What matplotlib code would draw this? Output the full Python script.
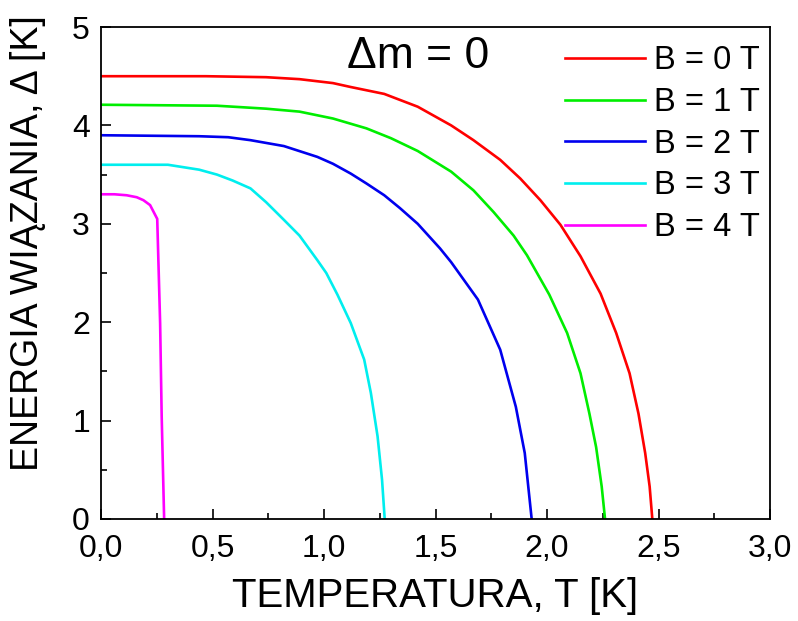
import matplotlib
matplotlib.use("Agg")
import matplotlib.pyplot as plt
from matplotlib.ticker import MultipleLocator

plt.rcParams["font.family"] = ["Liberation Sans", "DejaVu Sans"]

# values
t_b0 = [0, 0.47, 0.74, 0.89, 1.04, 1.12, 1.27, 1.42, 1.57, 1.67, 1.79, 1.88, 1.97,
        2.06, 2.15, 2.24, 2.31, 2.37, 2.41, 2.44, 2.46, 2.472]
d_b0 = [4.5, 4.5, 4.49, 4.47, 4.43, 4.39, 4.32, 4.19, 4.00, 3.85, 3.65, 3.46, 3.24,
        2.99, 2.67, 2.29, 1.89, 1.48, 1.07, 0.67, 0.33, 0.0]

t_b1 = [0, 0.52, 0.74, 0.89, 1.04, 1.19, 1.30, 1.42, 1.57, 1.67, 1.76, 1.85, 1.91,
        2.01, 2.09, 2.15, 2.19, 2.22, 2.245, 2.26]
d_b1 = [4.21, 4.2, 4.17, 4.14, 4.07, 3.97, 3.87, 3.74, 3.53, 3.34, 3.12, 2.88, 2.68,
        2.28, 1.89, 1.48, 1.07, 0.73, 0.33, 0.0]

t_b2 = [0, 0.44, 0.57, 0.67, 0.82, 0.97, 1.04, 1.12, 1.19, 1.27, 1.34, 1.42, 1.52,
        1.57, 1.69, 1.79, 1.86, 1.90, 1.931]
d_b2 = [3.9, 3.89, 3.88, 3.85, 3.79, 3.68, 3.61, 3.51, 3.41, 3.29, 3.16, 3.00, 2.75,
        2.61, 2.23, 1.72, 1.14, 0.67, 0.0]

t_b3 = [0, 0.30, 0.44, 0.52, 0.59, 0.67, 0.74, 0.82, 0.89, 0.97, 1.01, 1.06, 1.12,
        1.18, 1.21, 1.24, 1.26, 1.272]
d_b3 = [3.6, 3.6, 3.55, 3.50, 3.44, 3.36, 3.22, 3.04, 2.88, 2.63, 2.50, 2.28, 1.99,
        1.62, 1.28, 0.84, 0.40, 0.0]

t_b4 = [0, 0.06, 0.115, 0.16, 0.19, 0.22, 0.252, 0.265, 0.272, 0.283]
d_b4 = [3.3, 3.3, 3.29, 3.27, 3.24, 3.19, 3.05, 1.99, 1.04, 0.0]

labels = ["B = 0 T", "B = 1 T", "B = 2 T", "B = 3 T", "B = 4 T"]
colors = ["#ff0000", "#00ee00", "#0000ee", "#00eeee", "#ff00ff"]

x_ticks = [0.0, 0.5, 1.0, 1.5, 2.0, 2.5, 3.0]
y_ticks = [0, 1, 2, 3, 4, 5]

series = [(t_b0, d_b0), (t_b1, d_b1), (t_b2, d_b2), (t_b3, d_b3), (t_b4, d_b4)]

fig = plt.figure(figsize=(7.98, 6.21), dpi=100)
ax = fig.add_axes([0.1266, 0.1643, 0.8384, 0.7922])

for (t, d), lab, c in zip(series, labels, colors):
    ax.plot(t, d, color=c, linewidth=1.9, label=lab)

ax.set_xlim(0, 3)
ax.set_ylim(0, 5)
ax.set_xticks(x_ticks)
ax.set_xticklabels([f"{v:.1f}".replace(".", ",") for v in x_ticks])
ax.set_yticks(y_ticks)
ax.set_yticklabels([str(v) for v in y_ticks])
ax.xaxis.set_minor_locator(MultipleLocator(0.25))
ax.yaxis.set_minor_locator(MultipleLocator(0.5))
ax.tick_params(which="both", direction="in", top=False, right=False, width=1.2)
ax.tick_params(which="major", length=7, labelsize=23)
ax.tick_params(which="minor", length=4)
ax.tick_params(axis="x", which="major", pad=11)
ax.tick_params(axis="y", which="major", pad=8)
for s in ax.spines.values():
    s.set_linewidth(1.3)

fig.text(435.5 / 798, 1 - 596 / 621, "TEMPERATURA, T [K]", fontsize=29,
         ha="center", va="center")
fig.text(28 / 798, 1 - 243 / 621, "ENERGIA WIĄZANIA, Δ [K]", fontsize=27,
         rotation=90, ha="center", va="center")

ax.text(1.42, 4.70, "Δm = 0", fontsize=32, ha="center", va="center")

ax.legend(loc="upper right", bbox_to_anchor=(1.0, 0.983), frameon=False, fontsize=23.5,
          handlelength=2.45, handletextpad=0.28, labelspacing=0.33,
          borderaxespad=0.0, borderpad=0.3)

fig.savefig("out.png", dpi=100)
